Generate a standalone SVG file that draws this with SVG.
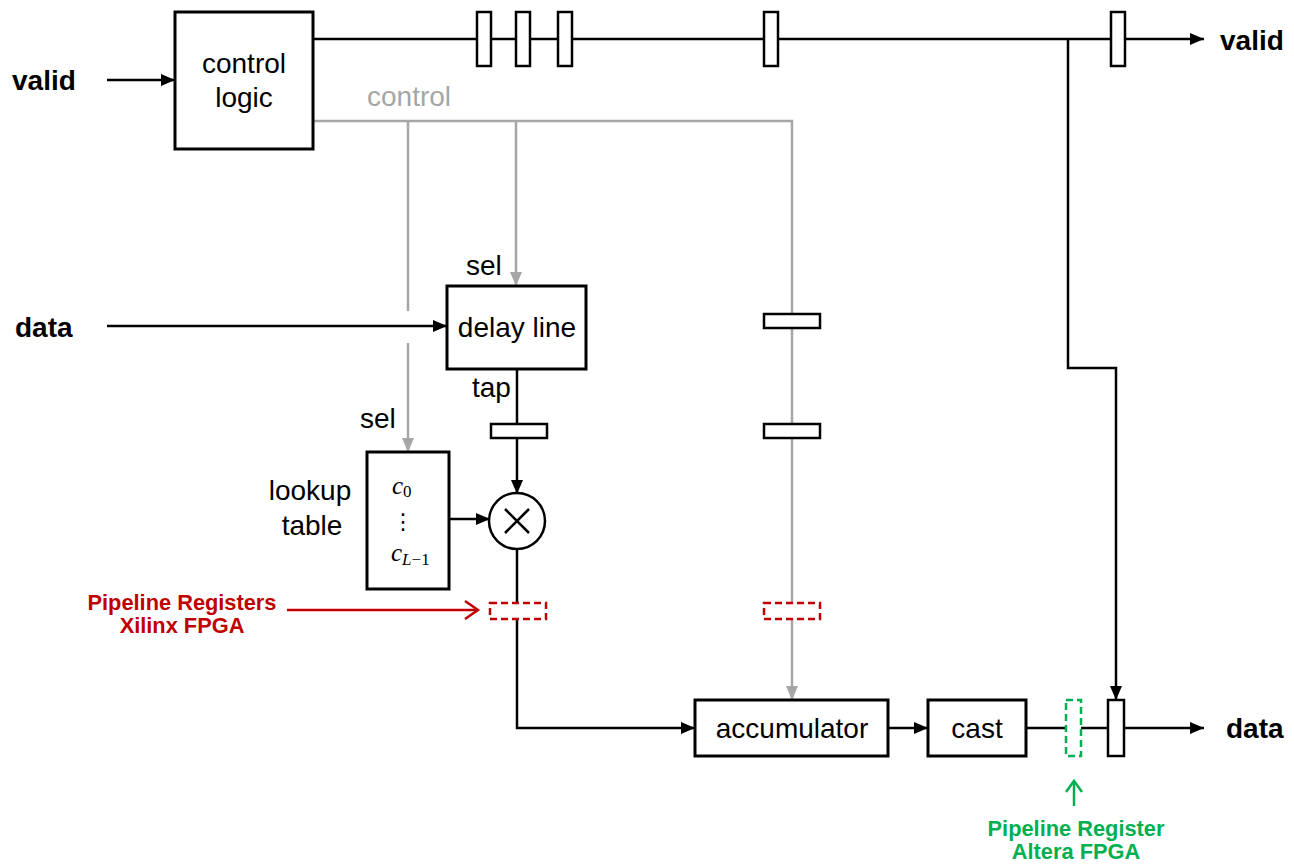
<svg xmlns="http://www.w3.org/2000/svg" width="1294" height="865" viewBox="0 0 1294 865">
<style>
text{font-family:"Liberation Sans",Arial,sans-serif;font-size:28px;fill:#000}
.b{font-weight:bold}
.lbl{text-anchor:middle}
.g{fill:#a6a6a6}
.red{fill:#c00000;font-weight:bold;font-size:21.8px;text-anchor:middle}
.grn{fill:#00b050;font-weight:bold;font-size:21.8px;text-anchor:middle}
.box{fill:#fff;stroke:#000;stroke-width:3}
.reg{fill:#fff;stroke:#000;stroke-width:2.5}
.w{fill:none;stroke:#000;stroke-width:2.5}
.gw{fill:none;stroke:#a6a6a6;stroke-width:2.5}
.rd{fill:#fff;stroke:#c00000;stroke-width:2.5;stroke-dasharray:7 4}
.gd{fill:#fff;stroke:#00b050;stroke-width:2.5;stroke-dasharray:7 4}
.math{font-family:"Liberation Serif","Times New Roman",serif;font-style:italic;font-size:25px}
.sub{font-size:17px}
.up{font-style:normal}
.dots{font-family:"DejaVu Sans",sans-serif;font-size:22px;text-anchor:middle}
</style>
<defs>
<marker id="ab" markerWidth="14" markerHeight="12" refX="14" refY="6" orient="auto" markerUnits="userSpaceOnUse"><path d="M0,0 L14,6 L0,12 Z" fill="#000"/></marker>
<marker id="ag" markerWidth="14" markerHeight="12" refX="14" refY="6" orient="auto" markerUnits="userSpaceOnUse"><path d="M0,0 L14,6 L0,12 Z" fill="#a6a6a6"/></marker>
</defs>

<g id="connectors">
<line class="w" x1="107" y1="80" x2="175" y2="80" marker-end="url(#ab)"/>
<line class="w" x1="313" y1="39" x2="1204" y2="39" marker-end="url(#ab)"/>
<polyline class="w" points="1068,39 1068,368 1116,368 1116,700" marker-end="url(#ab)"/>
<polyline class="gw" points="313,121 792,121 792,700" marker-end="url(#ag)"/>
<line class="gw" x1="408" y1="121" x2="408" y2="311"/>
<line class="gw" x1="408" y1="343" x2="408" y2="452" marker-end="url(#ag)"/>
<line class="gw" x1="516" y1="121" x2="516" y2="286" marker-end="url(#ag)"/>
<line class="w" x1="107" y1="326" x2="447" y2="326" marker-end="url(#ab)"/>
<line class="w" x1="517" y1="369" x2="517" y2="424"/>
<line class="w" x1="517" y1="438" x2="517" y2="494" marker-end="url(#ab)"/>
<line class="w" x1="449" y1="519" x2="490" y2="519" marker-end="url(#ab)"/>
<polyline class="w" points="517,549 517,728 695,728" marker-end="url(#ab)"/>
<line class="w" x1="888" y1="728" x2="928" y2="728" marker-end="url(#ab)"/>
<line class="w" x1="1026" y1="728" x2="1204" y2="728" marker-end="url(#ab)"/>
<line x1="287" y1="610" x2="478" y2="610" stroke="#c00000" stroke-width="2.5"/>
<polyline points="465,601 478,610 465,619" fill="none" stroke="#c00000" stroke-width="2.5"/>
<line x1="1074" y1="806" x2="1074" y2="781" stroke="#00b050" stroke-width="2.5"/>
<polyline points="1066,792 1074,781 1082,792" fill="none" stroke="#00b050" stroke-width="2.5"/>
</g>

<g id="registers">
<rect class="reg" x="477" y="12" width="14" height="54"/>
<rect class="reg" x="516" y="12" width="14" height="54"/>
<rect class="reg" x="558" y="12" width="14" height="54"/>
<rect class="reg" x="764" y="12" width="14" height="54"/>
<rect class="reg" x="1111" y="12" width="14" height="54"/>
<rect class="reg" x="764" y="314" width="56" height="14"/>
<rect class="reg" x="764" y="424" width="56" height="14"/>
<rect class="reg" x="491" y="424" width="56" height="14"/>
<rect class="rd" x="490" y="603" width="56" height="16"/>
<rect class="rd" x="764" y="603" width="56" height="16"/>
<rect class="gd" x="1066" y="700" width="15" height="56"/>
<rect class="reg" x="1108" y="700" width="16" height="56"/>
</g>

<g id="control-logic">
<rect class="box" x="175" y="12" width="138" height="137"/>
<text class="lbl" x="244" y="73">control</text>
<text class="lbl" x="244" y="107">logic</text>
</g>

<g id="delay-line">
<rect class="box" x="447" y="286" width="139" height="83"/>
<text class="lbl" x="517" y="337">delay line</text>
</g>

<g id="lookup-table">
<rect class="box" x="367" y="452" width="82" height="137"/>
<text class="math" x="392" y="494">c<tspan class="sub up" dy="3">0</tspan></text>
<text class="dots" x="403" y="529">⋮</text>
<text class="math" x="391" y="561">c<tspan class="sub" dy="4">L</tspan><tspan class="sub up">−1</tspan></text>
</g>

<g id="multiplier">
<circle cx="517" cy="521" r="28" fill="#fff" stroke="#000" stroke-width="2.5"/>
<line class="w" x1="505" y1="509" x2="529" y2="533"/>
<line class="w" x1="529" y1="509" x2="505" y2="533"/>
</g>

<g id="accumulator">
<rect class="box" x="695" y="700" width="193" height="56"/>
<text class="lbl" x="792" y="738">accumulator</text>
</g>

<g id="cast">
<rect class="box" x="928" y="700" width="98" height="56"/>
<text class="lbl" x="977" y="738">cast</text>
</g>

<g id="labels">
<text class="b" x="12" y="90">valid</text>
<text class="b" x="1220" y="50">valid</text>
<text class="b" x="15" y="337">data</text>
<text class="b" x="1226" y="738">data</text>
<text class="g" x="367" y="106">control</text>
<text x="466" y="275">sel</text>
<text x="360" y="428">sel</text>
<text x="472" y="397">tap</text>
<text class="lbl" x="310" y="500">lookup</text>
<text class="lbl" x="312" y="535">table</text>
<text class="red" x="182" y="610">Pipeline Registers</text>
<text class="red" x="182" y="633">Xilinx FPGA</text>
<text class="grn" x="1076" y="836">Pipeline Register</text>
<text class="grn" x="1076" y="859">Altera FPGA</text>
</g>
</svg>
